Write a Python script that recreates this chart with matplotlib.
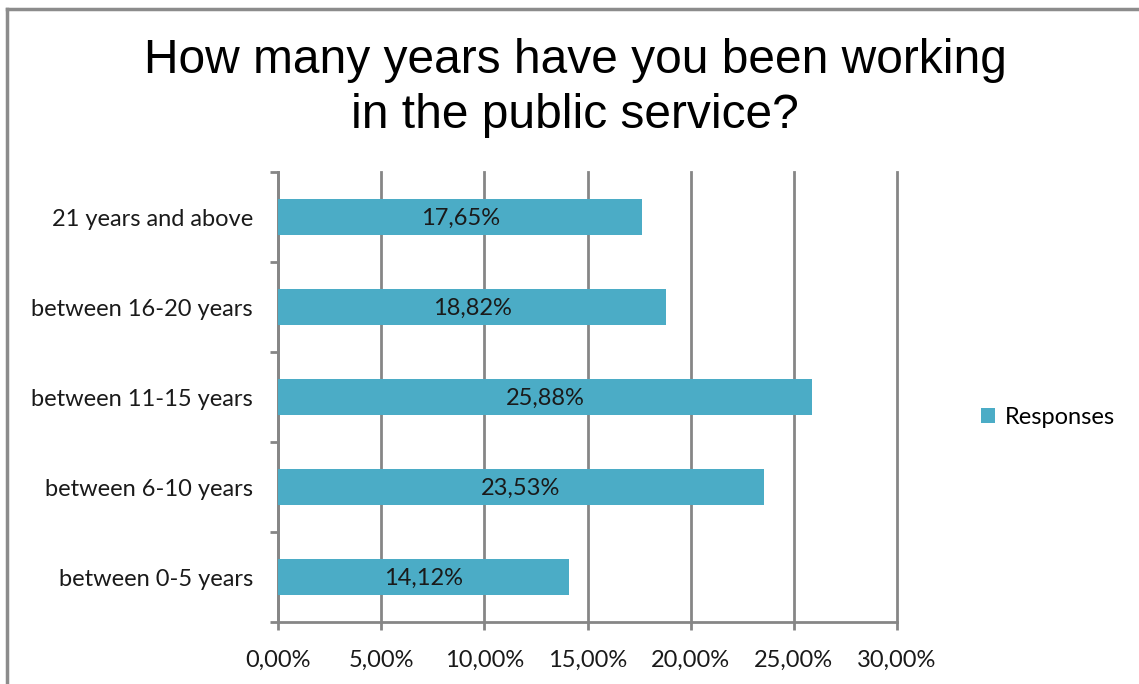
import matplotlib
matplotlib.use("Agg")
from matplotlib import pyplot as plt
from matplotlib.ticker import FixedLocator, FuncFormatter
from matplotlib.lines import Line2D

# data
categories = ["between 0-5 years", "between 6-10 years", "between 11-15 years",
              "between 16-20 years", "21 years and above"]
responses = [14.12, 23.53, 25.88, 18.82, 17.65]
xticks = [0, 5, 10, 15, 20, 25, 30]
series_name = "Responses"

bar_color = "#4BACC6"
grid_color = "#868686"
label_font = ["Lato", "DejaVu Sans"]
fs = 17

fig = plt.figure(figsize=(11.39, 6.84), dpi=100)
ax = fig.add_axes([278 / 1139, 1 - 622 / 684, (897 - 278) / 1139, (622 - 172) / 684])

pos = list(range(len(categories)))
bars = ax.barh(pos, responses, height=0.4, color=bar_color, zorder=3, label=series_name)

for p, v in zip(pos, responses):
    ax.text(v / 2, p - 0.02, ("%.2f%%" % v).replace(".", ","), ha="center", va="center",
            fontsize=fs, family=label_font, color="#1a1a1a", zorder=4)

ax.set_xlim(0, 30)
ax.set_ylim(-0.5, len(categories) - 0.5)
ax.set_xticks(xticks)
ax.xaxis.set_major_formatter(FuncFormatter(lambda v, _: ("%.2f%%" % v).replace(".", ",")))
ax.set_yticks(pos)
ax.set_yticklabels(categories)
ax.yaxis.set_minor_locator(FixedLocator([p - 0.5 for p in pos] + [len(pos) - 0.5]))
ax.tick_params(axis="y", which="major", length=0, pad=18)
ax.tick_params(axis="y", which="minor", length=6, width=2, color=grid_color, direction="out")
ax.tick_params(axis="x", length=6, width=2, color=grid_color, direction="out", pad=14)
for lab in ax.get_xticklabels() + ax.get_yticklabels():
    lab.set_family(label_font)
    lab.set_fontsize(fs)
    lab.set_color("#1a1a1a")

ax.grid(axis="x", color=grid_color, linewidth=2, zorder=0)
for gl in ax.get_xgridlines():
    gl.set_clip_on(False)
ax.set_axisbelow(True)
for s in ["top", "right"]:
    ax.spines[s].set_visible(False)
for s in ["left", "bottom"]:
    ax.spines[s].set_color(grid_color)
    ax.spines[s].set_linewidth(2)

fig.text(575 / 1139, 1 - 88 / 684, "How many years have you been working\nin the public service?",
         ha="center", va="center", fontsize=34.5, family="Liberation Sans",
         linespacing=1.27, color="black")

leg = fig.legend(handles=[bars], loc="center left", bbox_to_anchor=(960 / 1139, 1 - 417 / 684),
                 frameon=False, handlelength=0.6, handleheight=0.6, handletextpad=0.4,
                 prop={"family": label_font, "size": fs})

# outer frame (left and top edges visible)
fig.add_artist(Line2D([7 / 1139, 7 / 1139], [0, 1 - 9 / 684], transform=fig.transFigure,
                      color="#8c8c8c", linewidth=2.5))
fig.add_artist(Line2D([7 / 1139, 1], [1 - 9 / 684, 1 - 9 / 684], transform=fig.transFigure,
                      color="#8c8c8c", linewidth=2.5))

fig.savefig("out.png", dpi=100, facecolor="white")
